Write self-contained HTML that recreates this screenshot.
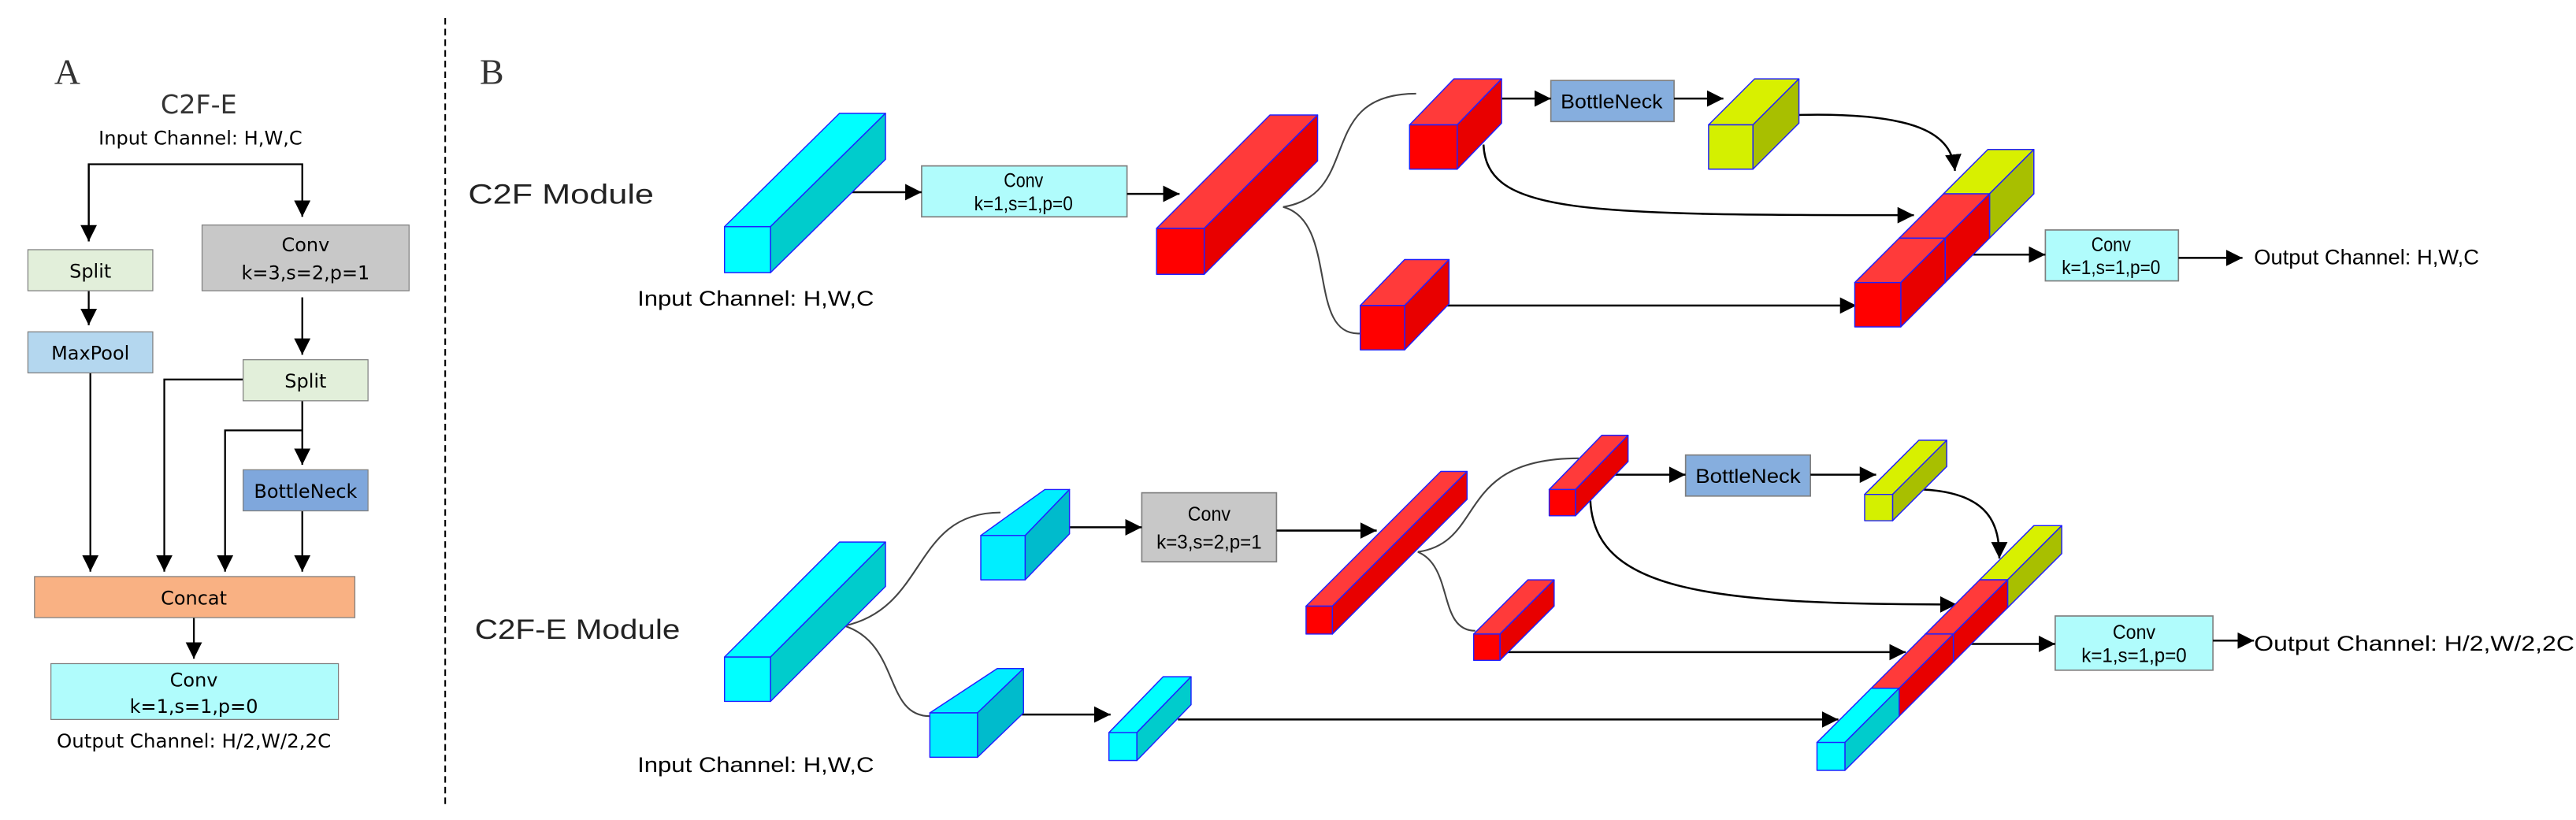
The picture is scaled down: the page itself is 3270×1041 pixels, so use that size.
<!DOCTYPE html>
<html><head><meta charset="utf-8"><style>html,body{margin:0;padding:0;background:#fff}svg{display:block}</style></head><body>
<svg width="3270" height="1041" viewBox="0 0 1568 499.2" preserveAspectRatio="none" xmlns="http://www.w3.org/2000/svg">
<defs>
<marker id="ah" markerUnits="userSpaceOnUse" markerWidth="10" markerHeight="10" viewBox="0 0 10 10" refX="10" refY="5" orient="auto"><path d="M0,0 L10,5 L0,10 z" fill="#000"/></marker>
</defs>
<rect width="1568" height="500" fill="#fff"/>
<!-- Panel A -->
<g font-family="'DejaVu Sans','Liberation Sans',sans-serif" fill="#000">
<text x="33" y="51" font-family="'Liberation Serif',serif" font-size="22" fill="#333">A</text>
<text x="121" y="69" font-size="16" text-anchor="middle" fill="#333">C2F-E</text>
<text x="122" y="88" font-size="11.5" text-anchor="middle" textLength="124" lengthAdjust="spacingAndGlyphs">Input Channel: H,W,C</text>
</g>
<g stroke="#000" stroke-width="1.1" fill="none">
<path d="M54,147 V100 H184 V132" marker-end="url(#ah)"/>
<path d="M54,100 V147" marker-end="url(#ah)"/>
<path d="M54,177 V198" marker-end="url(#ah)"/>
<path d="M184,181 V216" marker-end="url(#ah)"/>
<path d="M55,227 V348" marker-end="url(#ah)"/>
<path d="M148,231 H100 V348" marker-end="url(#ah)"/>
<path d="M184,262 H137 V348" marker-end="url(#ah)"/>
<path d="M184,244 V283" marker-end="url(#ah)"/>
<path d="M184,311 V348" marker-end="url(#ah)"/>
<path d="M118,375 V401" marker-end="url(#ah)"/>
</g>
<g stroke="#7f7f7f" stroke-width="0.6">
<rect x="17" y="152" width="76" height="25" fill="#e2efda"/>
<rect x="123" y="137" width="126" height="40" fill="#c8c8c8"/>
<rect x="17" y="202" width="76" height="25" fill="#b4d7ef"/>
<rect x="148" y="219" width="76" height="25" fill="#e2efda"/>
<rect x="148" y="286" width="76" height="25" fill="#7fa7dc"/>
<rect x="21" y="351" width="195" height="25" fill="#f9b183"/>
<rect x="31" y="404" width="175" height="34" fill="#b0fcfc"/>
</g>
<g font-family="'DejaVu Sans','Liberation Sans',sans-serif" font-size="11.5" text-anchor="middle" fill="#000">
<text x="55" y="169">Split</text>
<text x="186" y="153">Conv</text>
<text x="186" y="170">k=3,s=2,p=1</text>
<text x="55" y="219">MaxPool</text>
<text x="186" y="236">Split</text>
<text x="186" y="303">BottleNeck</text>
<text x="118" y="368">Concat</text>
<text x="118" y="418">Conv</text>
<text x="118" y="434">k=1,s=1,p=0</text>
<text x="118" y="455" textLength="167" lengthAdjust="spacingAndGlyphs">Output Channel: H/2,W/2,2C</text>
</g>
<line x1="271" y1="11" x2="271" y2="490" stroke="#000" stroke-width="1" stroke-dasharray="4,2.5"/>

<!-- Panel B -->
<text x="292" y="51" font-family="'Liberation Serif',serif" font-size="22" fill="#333">B</text>
<g font-family="'Liberation Sans Narrow','Liberation Sans',sans-serif" fill="#222">
<text x="285" y="124" font-size="17" textLength="113" lengthAdjust="spacingAndGlyphs">C2F  Module</text>
<text x="289" y="389" font-size="17" textLength="125" lengthAdjust="spacingAndGlyphs">C2F-E  Module</text>
<text x="388" y="186" font-size="13" fill="#000" textLength="144" lengthAdjust="spacingAndGlyphs">Input Channel: H,W,C</text>
<text x="388" y="470" font-size="13" fill="#000" textLength="144" lengthAdjust="spacingAndGlyphs">Input Channel: H,W,C</text>
<text x="1372" y="161" font-size="13" fill="#000" textLength="137" lengthAdjust="spacingAndGlyphs">Output Channel: H,W,C</text>
<text x="1372" y="396" font-size="13" fill="#000" textLength="195" lengthAdjust="spacingAndGlyphs">Output Channel: H/2,W/2,2C</text>
</g>
<!-- boxes B -->
<g stroke="#7f7f7f" stroke-width="0.8">
<rect x="561" y="101" width="125" height="31" fill="#b0fcfc"/>
<rect x="944" y="49" width="75" height="25" fill="#86aede"/>
<rect x="1245" y="140" width="81" height="31" fill="#b0fcfc"/>
<rect x="695" y="300" width="82" height="42" fill="#c8c8c8"/>
<rect x="1026" y="277" width="76" height="25" fill="#86aede"/>
<rect x="1251" y="375" width="96" height="33" fill="#b0fcfc"/>
</g>
<g font-family="'Liberation Sans Narrow','Liberation Sans',sans-serif" font-size="12" text-anchor="middle" fill="#000">
<text x="623" y="114" textLength="24" lengthAdjust="spacingAndGlyphs">Conv</text>
<text x="623" y="128" textLength="60" lengthAdjust="spacingAndGlyphs">k=1,s=1,p=0</text>
<text x="981" y="66" textLength="62" lengthAdjust="spacingAndGlyphs">BottleNeck</text>
<text x="1285" y="153" textLength="24" lengthAdjust="spacingAndGlyphs">Conv</text>
<text x="1285" y="167" textLength="60" lengthAdjust="spacingAndGlyphs">k=1,s=1,p=0</text>
<text x="736" y="317" textLength="26" lengthAdjust="spacingAndGlyphs">Conv</text>
<text x="736" y="334" textLength="64" lengthAdjust="spacingAndGlyphs">k=3,s=2,p=1</text>
<text x="1064" y="294" textLength="64" lengthAdjust="spacingAndGlyphs">BottleNeck</text>
<text x="1299" y="389" textLength="26" lengthAdjust="spacingAndGlyphs">Conv</text>
<text x="1299" y="403" textLength="64" lengthAdjust="spacingAndGlyphs">k=1,s=1,p=0</text>
</g>
<!-- curves gray -->
<g stroke="#444" stroke-width="1" fill="none">
<path d="M781,126 C830,118 800,57 862,57"/>
<path d="M781,126 C815,135 795,205 828,203"/>
<path d="M514,381 C565,370 555,312 609,312"/>
<path d="M514,381 C548,392 538,436 566,436"/>
<path d="M863,336 C905,330 885,279 961,279"/>
<path d="M863,336 C885,345 875,384 898,384"/>
</g>
<!-- arrows B -->
<g stroke="#000" stroke-width="1.2" fill="none">
<path d="M517,117 H561" marker-end="url(#ah)"/>
<path d="M686,118 H718" marker-end="url(#ah)"/>
<path d="M912,60 H944" marker-end="url(#ah)"/>
<path d="M1019,60 H1049" marker-end="url(#ah)"/>
<path d="M1094,70 C1175,68 1188,85 1190,104" marker-end="url(#ah)"/>
<path d="M903,88 C905,130 960,131 1165,131" marker-end="url(#ah)"/>
<path d="M870,186 H1130" marker-end="url(#ah)"/>
<path d="M1184,155 H1245" marker-end="url(#ah)"/>
<path d="M1326,157 H1365" marker-end="url(#ah)"/>
<path d="M651,321 H695" marker-end="url(#ah)"/>
<path d="M777,323 H838" marker-end="url(#ah)"/>
<path d="M962,289 H1026" marker-end="url(#ah)"/>
<path d="M1102,289 H1142" marker-end="url(#ah)"/>
<path d="M1170,298 C1212,300 1217,320 1217,340" marker-end="url(#ah)"/>
<path d="M968,304 C970,360 1040,368 1191,368" marker-end="url(#ah)"/>
<path d="M913,397 H1160" marker-end="url(#ah)"/>
<path d="M622,435 H676" marker-end="url(#ah)"/>
<path d="M717,438 H1119" marker-end="url(#ah)"/>
<path d="M1199,392 H1251" marker-end="url(#ah)"/>
<path d="M1347,390 H1372" marker-end="url(#ah)"/>
</g>
<!-- cuboids -->
<g stroke="#2020ff" stroke-width="0.7" stroke-linejoin="round">
<polygon points="441,138 469,138 539,69 511,69" fill="#00ffff"/>
<polygon points="469,138 539,69 539,97 469,166" fill="#00cccc"/>
<rect x="441" y="138" width="28" height="28" fill="#00ffff"/>
<polygon points="704,139 733,139 802,70 773,70" fill="#ff3a3a"/>
<polygon points="733,139 802,70 802,98 733,167" fill="#e80000"/>
<rect x="704" y="139" width="29" height="28" fill="#ff0000"/>
<polygon points="858,76 887,76 914,48 885,48" fill="#ff3a3a"/>
<polygon points="887,76 914,48 914,75 887,103" fill="#e80000"/>
<rect x="858" y="76" width="29" height="27" fill="#ff0000"/>
<polygon points="1040,76 1067,76 1095,48 1068,48" fill="#d8f000"/>
<polygon points="1067,76 1095,48 1095,75 1067,103" fill="#a8bf00"/>
<rect x="1040" y="76" width="27" height="27" fill="#d4f000"/>
<polygon points="828,186 855,186 882,158 855,158" fill="#ff3a3a"/>
<polygon points="855,186 882,158 882,185 855,213" fill="#e80000"/>
<rect x="828" y="186" width="27" height="27" fill="#ff0000"/>
<polygon points="1183,118 1211,118 1238,91 1210,91" fill="#d8f000"/>
<polygon points="1211,118 1238,91 1238,118 1211,145" fill="#a8bf00"/>
<rect x="1183" y="118" width="28" height="27" fill="#d4f000"/>
<polygon points="1156,145 1184,145 1211,118 1183,118" fill="#ff3a3a"/>
<polygon points="1184,145 1211,118 1211,145 1184,172" fill="#e80000"/>
<rect x="1156" y="145" width="28" height="27" fill="#ff0000"/>
<polygon points="1129,172 1157,172 1184,145 1156,145" fill="#ff3a3a"/>
<polygon points="1157,172 1184,145 1184,172 1157,199" fill="#e80000"/>
<rect x="1129" y="172" width="28" height="27" fill="#ff0000"/>
<polygon points="441,400 469,400 539,330 511,330" fill="#00ffff"/>
<polygon points="469,400 539,330 539,357 469,427" fill="#00cccc"/>
<rect x="441" y="400" width="28" height="27" fill="#00ffff"/>
<polygon points="597,326 624,326 651,298 636,298" fill="#00eeff"/>
<polygon points="624,326 651,298 651,325 624,353" fill="#00bbcc"/>
<rect x="597" y="326" width="27" height="27" fill="#00eeff"/>
<polygon points="795,369 811,369 893,287 877,287" fill="#ff3a3a"/>
<polygon points="811,369 893,287 893,304 811,386" fill="#e80000"/>
<rect x="795" y="369" width="16" height="17" fill="#ff0000"/>
<polygon points="943,298 959,298 991,265 975,265" fill="#ff3a3a"/>
<polygon points="959,298 991,265 991,281 959,314" fill="#e80000"/>
<rect x="943" y="298" width="16" height="16" fill="#ff0000"/>
<polygon points="897,386 913,386 946,353 930,353" fill="#ff3a3a"/>
<polygon points="913,386 946,353 946,369 913,402" fill="#e80000"/>
<rect x="897" y="386" width="16" height="16" fill="#ff0000"/>
<polygon points="566,434 595,434 623,407 607,407" fill="#00eeff"/>
<polygon points="595,434 623,407 623,434 595,461" fill="#00bbcc"/>
<rect x="566" y="434" width="29" height="27" fill="#00eeff"/>
<polygon points="675,446 692,446 725,412 708,412" fill="#00ffff"/>
<polygon points="692,446 725,412 725,429 692,463" fill="#00cccc"/>
<rect x="675" y="446" width="17" height="17" fill="#00ffff"/>
<polygon points="1135,301 1152,301 1185,268 1168,268" fill="#d8f000"/>
<polygon points="1152,301 1185,268 1185,284 1152,317" fill="#a8bf00"/>
<rect x="1135" y="301" width="17" height="16" fill="#d4f000"/>
<polygon points="1205,353 1222,353 1255,320 1238,320" fill="#d8f000"/>
<polygon points="1222,353 1255,320 1255,337 1222,370" fill="#a8bf00"/>
<rect x="1205" y="353" width="17" height="17" fill="#d4f000"/>
<polygon points="1172,386 1189,386 1222,353 1205,353" fill="#ff3a3a"/>
<polygon points="1189,386 1222,353 1222,370 1189,403" fill="#e80000"/>
<rect x="1172" y="386" width="17" height="17" fill="#ff0000"/>
<polygon points="1139,419 1156,419 1189,386 1172,386" fill="#ff3a3a"/>
<polygon points="1156,419 1189,386 1189,403 1156,436" fill="#e80000"/>
<rect x="1139" y="419" width="17" height="17" fill="#ff0000"/>
<polygon points="1106,452 1123,452 1156,419 1139,419" fill="#00ffff"/>
<polygon points="1123,452 1156,419 1156,436 1123,469" fill="#00cccc"/>
<rect x="1106" y="452" width="17" height="17" fill="#00ffff"/>
</g>
</svg>
</body></html>
